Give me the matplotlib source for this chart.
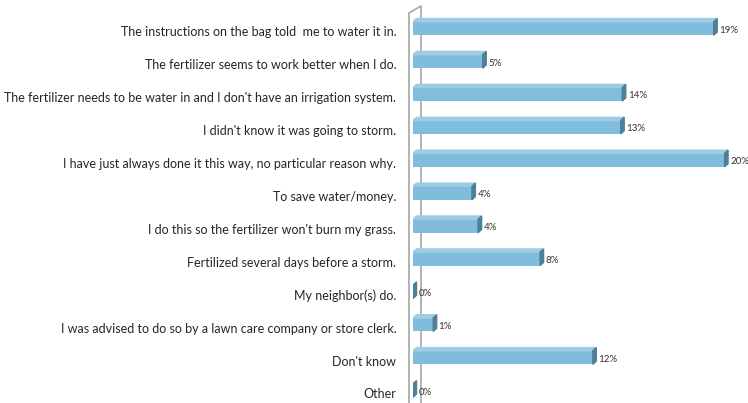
import matplotlib.pyplot as plt
import matplotlib.transforms as mtransforms
from matplotlib.patches import Polygon

reasons = [
    "The instructions on the bag told  me to water it in.",
    "The fertilizer seems to work better when I do.",
    "The fertilizer needs to be water in and I don't have an irrigation system.",
    "I didn't know it was going to storm.",
    "I have just always done it this way, no particular reason why.",
    "To save water/money.",
    "I do this so the fertilizer won't burn my grass.",
    "Fertilized several days before a storm.",
    "My neighbor(s) do.",
    "I was advised to do so by a lawn care company or store clerk.",
    "Don't know",
    "Other",
]
shares = [19.4, 4.5, 13.5, 13.4, 20.1, 3.8, 4.2, 8.2, 0.0, 1.3, 11.6, 0.0]
labels = ["19%", "5%", "14%", "13%", "20%", "4%", "4%", "8%", "0%", "1%", "12%", "0%"]

W, H, DPI = 748, 403, 100
front_c = "#80BDDC"
top_c = "#9DCCE4"
side_c = "#4E7F97"

plt.rcParams["font.family"] = ["Lato", "DejaVu Sans"]
fig = plt.figure(figsize=(W / DPI, H / DPI), dpi=DPI)
ax = fig.add_axes([413 / W, 0, (W - 413) / W, (H - 12) / H])
xmax = (W - 413) / 15.5
ax.set_xlim(0, xmax)
ax.set_ylim(11.38, -0.5)

# depth of the fake 3D effect, in data units
px_x = xmax / (W - 413)
px_y = 11.88 / (H - 12)
dx, dy = 3.5 * px_x, 3.2 * px_y
bh = 0.41

for i, v in enumerate(shares):
    y0, y1 = i - bh / 2, i + bh / 2
    if v > 0:
        ax.barh(i, v, height=bh, color=front_c, zorder=3)
        ax.add_patch(Polygon([(0, y0), (v, y0), (v + dx, y0 - dy), (dx, y0 - dy)],
                             closed=True, color=top_c, zorder=3))
    ax.add_patch(Polygon([(v, y0), (v + dx, y0 - dy), (v + dx, y1 - dy), (v, y1)],
                         closed=True, color=side_c, zorder=3))
    ax.text(v + dx + 2 * px_x, i + 0.05, labels[i], fontsize=7, color="#333333",
            va="center", ha="left", zorder=4)

ax.set_yticks(range(len(reasons)))
ax.set_yticklabels(reasons, fontsize=9, color="#262626")
ax.tick_params(axis="y", length=0, pad=12)
shift = mtransforms.ScaledTranslation(0, -3 / DPI, fig.dpi_scale_trans)
for t in ax.get_yticklabels():
    t.set_transform(t.get_transform() + shift)
ax.set_xticks([])
for s in ax.spines.values():
    s.set_visible(False)

# side wall
wall = Polygon([(-4 * px_x, 12.5), (-4 * px_x, -0.5 + 1 * px_y),
                (8 * px_x, -0.5 - 6 * px_y), (8 * px_x, 12.5)],
               closed=False, fill=False, edgecolor="#A6A6A6", lw=1.2,
               clip_on=False, zorder=1)
ax.add_patch(wall)

fig.savefig("out.png", dpi=DPI)
